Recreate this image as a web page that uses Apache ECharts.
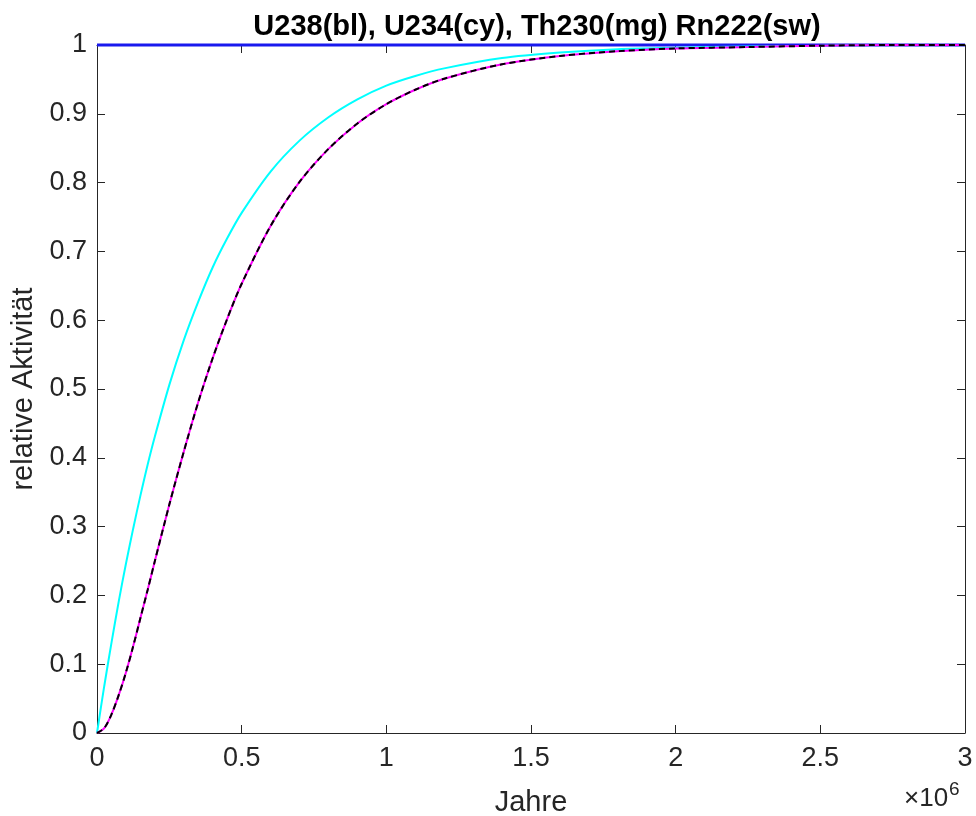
<!DOCTYPE html>
<html>
<head>
<meta charset="utf-8">
<script src="https://cdn.jsdelivr.net/npm/echarts@6/dist/echarts.min.js"></script>
<style>html,body{margin:0;padding:0;background:#fff}#c{width:976px;height:816px}</style>
</head>
<body>
<div id="c"></div>
<script>
// Years (in units of 1e6 years)
const years = [0, 0.025, 0.05, 0.075, 0.1, 0.125, 0.15, 0.175, 0.2, 0.25, 0.3, 0.35, 0.4, 0.45, 0.5, 0.6, 0.7, 0.8, 0.9, 1.0, 1.1, 1.2, 1.4, 1.6, 1.8, 2.0, 2.25, 2.5, 2.75, 3.0];
const u238  = [1, 1, 1, 1, 1, 1, 1, 1, 1, 1, 1, 1, 1, 1, 1, 1, 1, 1, 1, 1, 1, 1, 1, 1, 1, 1, 1, 1, 1, 1];
const u234  = [0, 0.068, 0.131, 0.191, 0.246, 0.297, 0.345, 0.390, 0.431, 0.506, 0.571, 0.627, 0.677, 0.719, 0.756, 0.816, 0.861, 0.895, 0.921, 0.941, 0.955, 0.966, 0.981, 0.989, 0.994, 0.996, 0.998, 0.999, 1.0, 1.0];
const th230 = [0, 0.007, 0.027, 0.055, 0.088, 0.126, 0.167, 0.208, 0.250, 0.332, 0.409, 0.481, 0.545, 0.602, 0.653, 0.737, 0.801, 0.849, 0.886, 0.914, 0.935, 0.951, 0.972, 0.984, 0.991, 0.995, 0.997, 0.999, 1.0, 1.0];
const rn222 = [0, 0.007, 0.027, 0.055, 0.088, 0.126, 0.167, 0.208, 0.250, 0.332, 0.409, 0.481, 0.545, 0.602, 0.653, 0.737, 0.801, 0.849, 0.886, 0.914, 0.935, 0.951, 0.972, 0.984, 0.991, 0.995, 0.997, 0.999, 1.0, 1.0];
const xTicks = [0, 0.5, 1, 1.5, 2, 2.5, 3];
const yTicks = [0, 0.1, 0.2, 0.3, 0.4, 0.5, 0.6, 0.7, 0.8, 0.9, 1];
const titleText = 'U238(bl), U234(cy), Th230(mg) Rn222(sw)';

const SCALE = 1e6;
const pair = arr => years.map((t, i) => [t * SCALE, arr[i]]);
const FONT = '"Liberation Sans", Arial, Helvetica, sans-serif';
const AX = '#262626';

const chart = echarts.init(document.getElementById('c'), null, {renderer: 'canvas'});
const axisLine = {show: true, onZero: false, lineStyle: {color: AX, width: 1}};
const tick = {show: true, inside: true, length: 8, lineStyle: {color: AX, width: 1}};
const lineCommon = {type: 'line', showSymbol: false, clip: false, smooth: 0.3};
chart.setOption({
  animation: false,
  backgroundColor: '#fff',
  title: {
    text: titleText, left: 532, top: 6, textAlign: 'center',
    textStyle: {fontFamily: FONT, fontWeight: 'bold', fontSize: 29, color: '#000', lineHeight: 32}
  },
  grid: {left: 97, right: 11, top: 45, bottom: 83, containLabel: false, outerBoundsMode: 'none'},
  xAxis: [{
    type: 'value', min: 0, max: 3 * SCALE, interval: 0.5 * SCALE, position: 'bottom',
    axisLine, axisTick: tick, splitLine: {show: false},
    axisLabel: {margin: 12, fontFamily: FONT, fontSize: 27, color: AX,
      formatter: v => { const k = v / SCALE; return xTicks.includes(k) ? String(k) : ''; }},
    name: 'Jahre', nameLocation: 'middle', nameGap: 55,
    nameTextStyle: {fontFamily: FONT, fontSize: 29, color: AX}
  }, {
    type: 'value', min: 0, max: 3 * SCALE, interval: 0.5 * SCALE, position: 'top',
    axisLine, axisTick: tick, axisLabel: {show: false}, splitLine: {show: false}
  }],
  yAxis: [{
    type: 'value', min: 0, max: 1, interval: 0.1, position: 'left',
    axisLine, axisTick: tick, splitLine: {show: false},
    axisLabel: {margin: 10, fontFamily: FONT, fontSize: 27, color: AX,
      formatter: v => { const r = Math.round(v * 10) / 10; return yTicks.includes(r) ? String(r) : ''; }},
    name: 'relative Aktivität', nameLocation: 'middle', nameGap: 47, nameRotate: 90,
    nameTextStyle: {fontFamily: FONT, fontSize: 29, color: AX}
  }, {
    type: 'value', min: 0, max: 1, interval: 0.1, position: 'right',
    axisLine, axisTick: tick, axisLabel: {show: false}, splitLine: {show: false}
  }],
  graphic: [{
    type: 'text', left: 904, top: 780,
    style: {
      text: '{a|×10}{b|6}',
      rich: {
        a: {fontFamily: FONT, fontSize: 26, fill: AX, verticalAlign: 'bottom', lineHeight: 32},
        b: {fontFamily: FONT, fontSize: 19, fill: AX, verticalAlign: 'top', lineHeight: 32, padding: [0, 0, 14, 1]}
      }
    }
  }],
  series: [
    Object.assign({name: 'U238', data: pair(u238), lineStyle: {color: '#1a1aee', width: 3}, z: 2}, lineCommon),
    Object.assign({name: 'U234', data: pair(u234), lineStyle: {color: '#00ffff', width: 2}, z: 3}, lineCommon),
    Object.assign({name: 'Th230', data: pair(th230), lineStyle: {color: '#ff00ff', width: 2}, z: 4}, lineCommon),
    Object.assign({name: 'Rn222', data: pair(rn222), lineStyle: {color: '#000000', width: 2, type: [6, 4]}, z: 5}, lineCommon)
  ]
});
</script>
</body>
</html>
